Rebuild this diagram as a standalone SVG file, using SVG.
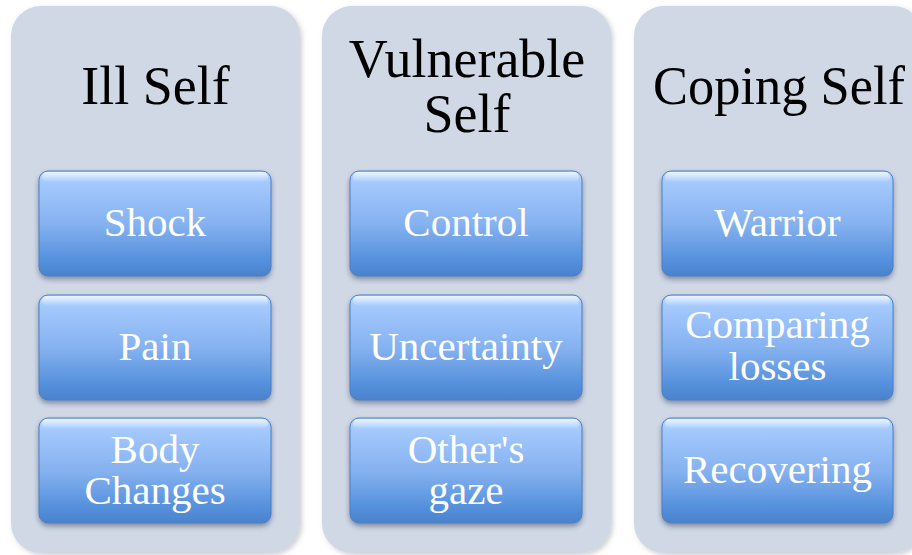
<svg xmlns="http://www.w3.org/2000/svg" width="912" height="555" viewBox="0 0 912 555">
<style>
.panel{fill:#d0d8e6;filter:url(#pshadow)}
.box{fill:url(#boxg);stroke:#4c7fc0;stroke-width:1;filter:url(#bshadow)}
.hl{fill:url(#hlg)}
.title{font-family:"Liberation Serif",serif;font-size:54px;fill:#000;text-anchor:middle}
.lbl{font-family:"Liberation Serif",serif;font-size:41px;fill:#fff;text-anchor:middle}
</style>
<defs>
<linearGradient id="boxg" x1="0" y1="0" x2="0" y2="1">
<stop offset="0" stop-color="#b4d6ff"/>
<stop offset="0.12" stop-color="#a3c8fd"/>
<stop offset="0.5" stop-color="#86b2f0"/>
<stop offset="0.85" stop-color="#5590dc"/>
<stop offset="1" stop-color="#4a82cc"/>
</linearGradient>
<linearGradient id="hlg" x1="0" y1="0" x2="0" y2="1">
<stop offset="0" stop-color="#ffffff" stop-opacity="0.75"/>
<stop offset="1" stop-color="#ffffff" stop-opacity="0"/>
</linearGradient>
<filter id="bshadow" x="-10%" y="-10%" width="120%" height="130%">
<feDropShadow dx="0" dy="3" stdDeviation="2.5" flood-color="#203050" flood-opacity="0.45"/>
</filter>
<filter id="pshadow" x="-10%" y="-10%" width="120%" height="120%">
<feDropShadow dx="2" dy="2" stdDeviation="2.5" flood-color="#606060" flood-opacity="0.3"/>
</filter>
</defs>

<g id="col-ill">
<rect class="panel" x="11" y="6" width="289" height="547" rx="30"/>
<text class="title" x="155.5" y="104">Ill Self</text>
</g>
<g id="col-vulnerable">
<rect class="panel" x="322" y="6" width="289" height="547" rx="30"/>
<text class="title" x="467" y="77">Vulnerable</text>
<text class="title" x="467" y="132">Self</text>
</g>
<g id="col-coping">
<rect class="panel" x="634" y="6" width="289" height="547" rx="30"/>
<text class="title" x="779" y="104" textLength="252" lengthAdjust="spacingAndGlyphs">Coping Self</text>
</g>

<g id="shock">
<rect class="box" x="39" y="171" width="232" height="105" rx="9"/>
<rect class="hl" x="42" y="172" width="226" height="10" rx="5"/>
<text class="lbl" x="155" y="236">Shock</text>
</g>
<g id="pain">
<rect class="box" x="39" y="295" width="232" height="105" rx="9"/>
<rect class="hl" x="42" y="296" width="226" height="10" rx="5"/>
<text class="lbl" x="155" y="360">Pain</text>
</g>
<g id="body-changes">
<rect class="box" x="39" y="418" width="232" height="105" rx="9"/>
<rect class="hl" x="42" y="419" width="226" height="10" rx="5"/>
<text class="lbl" x="155" y="463">Body</text>
<text class="lbl" x="155" y="504">Changes</text>
</g>

<g id="control">
<rect class="box" x="350" y="171" width="232" height="105" rx="9"/>
<rect class="hl" x="353" y="172" width="226" height="10" rx="5"/>
<text class="lbl" x="466" y="236">Control</text>
</g>
<g id="uncertainty">
<rect class="box" x="350" y="295" width="232" height="105" rx="9"/>
<rect class="hl" x="353" y="296" width="226" height="10" rx="5"/>
<text class="lbl" x="466" y="360">Uncertainty</text>
</g>
<g id="others-gaze">
<rect class="box" x="350" y="418" width="232" height="105" rx="9"/>
<rect class="hl" x="353" y="419" width="226" height="10" rx="5"/>
<text class="lbl" x="466" y="463">Other's</text>
<text class="lbl" x="466" y="504">gaze</text>
</g>

<g id="warrior">
<rect class="box" x="662" y="171" width="231" height="105" rx="9"/>
<rect class="hl" x="665" y="172" width="225" height="10" rx="5"/>
<text class="lbl" x="777.5" y="236">Warrior</text>
</g>
<g id="comparing-losses">
<rect class="box" x="662" y="295" width="231" height="105" rx="9"/>
<rect class="hl" x="665" y="296" width="225" height="10" rx="5"/>
<text class="lbl" x="777.5" y="338">Comparing</text>
<text class="lbl" x="777.5" y="380">losses</text>
</g>
<g id="recovering">
<rect class="box" x="662" y="418" width="231" height="105" rx="9"/>
<rect class="hl" x="665" y="419" width="225" height="10" rx="5"/>
<text class="lbl" x="777.5" y="483">Recovering</text>
</g>

<g id="connectors"/>
</svg>
